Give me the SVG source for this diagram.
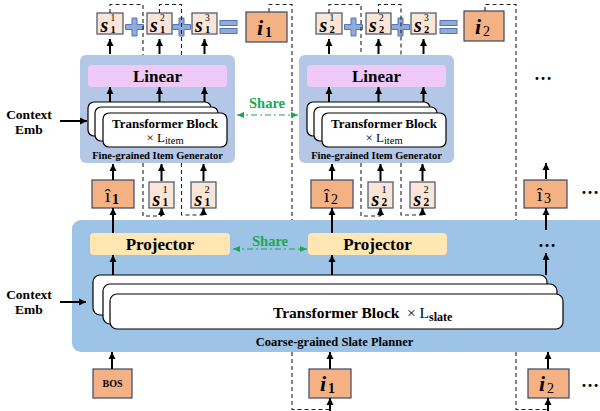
<svg xmlns="http://www.w3.org/2000/svg" width="600" height="411" viewBox="0 0 600 411">
<defs>
<style>
text{font-family:"Liberation Serif","Times New Roman",serif;fill:#000}
.b{font-weight:bold}
.gen{fill:#b4c7e7}
.slate{fill:#9dc3e6}
.lin{fill:#efc9f7}
.proj{fill:#ffe6b3}
.tb{fill:#fff;stroke:#000;stroke-width:1.2}
.ob{fill:#f4b183;stroke:#3a4768;stroke-width:1.2}
.lb{fill:#fbe5d6;stroke:#44546a;stroke-width:1.2}
.plus{fill:#8faadc;stroke:#5775ad;stroke-width:1}
.arr{stroke:#000;stroke-width:2;fill:none;marker-end:url(#ah)}
.dash{stroke:#222;stroke-width:1.1;fill:none;stroke-dasharray:4 3}
.share{stroke:#1aa84f;stroke-width:1.2;fill:none;stroke-dasharray:6 3 2 3;marker-start:url(#gh);marker-end:url(#gh)}
.st{font-weight:bold;fill:#1aa84f;font-size:14.5px}
.sv{font-weight:bold;font-style:italic;font-size:20px}
.sup{font-size:10.5px;font-weight:normal;font-style:normal}
.sub{font-size:11.5px;font-weight:bold;font-style:normal}
.sup2{font-size:9.5px;font-weight:normal;font-style:normal}
.sub2{font-size:10.5px;font-weight:bold;font-style:normal}
.iv{font-weight:bold;font-style:italic;font-size:22px}
.isub{font-weight:bold;font-size:14px;font-style:normal}
.hat{font-size:19px}
</style>
<marker id="ah" markerUnits="userSpaceOnUse" markerWidth="8" markerHeight="8" refX="7" refY="4" orient="auto"><path d="M0,0.5 L7,4 L0,7.5 z" fill="#000"/></marker>
<marker id="gh" markerUnits="userSpaceOnUse" markerWidth="8" markerHeight="8" refX="7" refY="4" orient="auto-start-reverse"><path d="M0,1 L7,4 L0,7 z" fill="#1aa84f"/></marker>
</defs>
<rect width="600" height="411" fill="#fff"/>

<!-- Coarse-grained slate planner -->
<g id="slate-planner">
<rect class="slate" x="72" y="220" width="545" height="132" rx="9"/>
<rect class="tb" x="93" y="275" width="454" height="40" rx="7"/>
<rect class="tb" x="103" y="284" width="454" height="40" rx="7"/>
<rect class="tb" x="110" y="294" width="453" height="35" rx="7"/>
<text class="b" x="273" y="318" font-size="15.5">Transformer Block</text>
<text x="407" y="318" font-size="15.5">× L<tspan class="b" font-size="12" dy="3">slate</tspan></text>
<text class="b" x="334.5" y="346" font-size="12.5" text-anchor="middle">Coarse-grained Slate Planner</text>
</g>
<g id="projector-1"><rect class="proj" x="90" y="233" width="140" height="22" rx="4"/><text class="b" x="160" y="250" font-size="17" text-anchor="middle">Projector</text></g>
<g id="projector-2"><rect class="proj" x="308" y="233" width="139" height="22" rx="4"/><text class="b" x="377.5" y="250" font-size="17" text-anchor="middle">Projector</text></g>
<g id="dots-proj"><text class="b" x="547" y="247" font-size="18" text-anchor="middle">…</text></g>

<!-- Fine-grained item generators -->
<g id="generator-1">
<rect class="gen" x="80" y="55" width="155" height="108" rx="6"/>
<rect class="lin" x="88" y="65" width="139" height="22" rx="4"/>
<text class="b" x="157.5" y="82" font-size="17" text-anchor="middle">Linear</text>
<rect class="tb" x="88" y="102" width="123" height="34" rx="6"/>
<rect class="tb" x="95" y="107" width="123" height="34" rx="6"/>
<rect class="tb" x="103" y="113" width="124" height="34" rx="6"/>
<text class="b" x="165" y="128" font-size="13" text-anchor="middle">Transformer Block</text>
<text x="165" y="142" font-size="13" text-anchor="middle">× L<tspan font-size="10.5" dy="2">item</tspan></text>
<text class="b" x="157.5" y="159" font-size="10.5" text-anchor="middle">Fine-grained Item Generator</text>
</g>
<g id="generator-2">
<rect class="gen" x="299" y="55" width="155" height="108" rx="6"/>
<rect class="lin" x="307" y="65" width="139" height="22" rx="4"/>
<text class="b" x="376.5" y="82" font-size="17" text-anchor="middle">Linear</text>
<rect class="tb" x="307" y="102" width="123" height="34" rx="6"/>
<rect class="tb" x="314" y="107" width="123" height="34" rx="6"/>
<rect class="tb" x="322" y="113" width="124" height="34" rx="6"/>
<text class="b" x="384" y="128" font-size="13" text-anchor="middle">Transformer Block</text>
<text x="384" y="142" font-size="13" text-anchor="middle">× L<tspan font-size="10.5" dy="2">item</tspan></text>
<text class="b" x="376.5" y="159" font-size="10.5" text-anchor="middle">Fine-grained Item Generator</text>
</g>

<!-- Context Emb labels -->
<g id="context-emb-1"><text class="b" x="29" y="119" font-size="13.5" text-anchor="middle">Context</text><text class="b" x="29" y="134" font-size="13.5" text-anchor="middle">Emb</text></g>
<g id="context-emb-2"><text class="b" x="29" y="299" font-size="13.5" text-anchor="middle">Context</text><text class="b" x="29" y="314" font-size="13.5" text-anchor="middle">Emb</text></g>

<!-- Top row group 1 -->
<g id="s1-1-out"><rect class="lb" x="97" y="13" width="26" height="21"/><text class="sv" x="100.5" y="32">s<tspan class="sup2" x="110.5" y="21">1</tspan><tspan class="sub2" x="110.5" y="33">1</tspan></text></g>
<g id="plus-1a"><path class="plus" d="M132,18 h5 v6.5 h6.5 v5 h-6.5 v6.5 h-5 v-6.5 h-6.5 v-5 h6.5 z"/></g>
<g id="s1-2-out"><rect class="lb" x="147" y="13" width="25" height="21"/><text class="sv" x="150" y="32">s<tspan class="sup2" x="160" y="21">2</tspan><tspan class="sub2" x="160" y="33">1</tspan></text></g>
<g id="plus-1b"><path class="plus" d="M179,18 h5 v6.5 h6.5 v5 h-6.5 v6.5 h-5 v-6.5 h-6.5 v-5 h6.5 z"/></g>
<g id="s1-3-out"><rect class="lb" x="192" y="13" width="25" height="21"/><text class="sv" x="195" y="32">s<tspan class="sup2" x="205" y="21">3</tspan><tspan class="sub2" x="205" y="33">1</tspan></text></g>
<g id="equals-1"><rect class="plus" x="220" y="20.5" width="17" height="5"/><rect class="plus" x="220" y="28.5" width="17" height="5"/></g>
<g id="i1-out"><rect class="ob" x="246" y="12" width="41" height="30"/><text class="iv" x="257" y="35">i<tspan class="isub" x="265" y="37">1</tspan></text></g>

<!-- Top row group 2 -->
<g id="s2-1-out"><rect class="lb" x="316" y="13" width="26" height="21"/><text class="sv" x="319.5" y="32">s<tspan class="sup2" x="329.5" y="21">1</tspan><tspan class="sub2" x="329.5" y="33">2</tspan></text></g>
<g id="plus-2a"><path class="plus" d="M351,18 h5 v6.5 h6.5 v5 h-6.5 v6.5 h-5 v-6.5 h-6.5 v-5 h6.5 z"/></g>
<g id="s2-2-out"><rect class="lb" x="366" y="13" width="25" height="21"/><text class="sv" x="369" y="32">s<tspan class="sup2" x="379" y="21">2</tspan><tspan class="sub2" x="379" y="33">2</tspan></text></g>
<g id="plus-2b"><path class="plus" d="M398,18 h5 v6.5 h6.5 v5 h-6.5 v6.5 h-5 v-6.5 h-6.5 v-5 h6.5 z"/></g>
<g id="s2-3-out"><rect class="lb" x="411" y="13" width="25" height="21"/><text class="sv" x="414" y="32">s<tspan class="sup2" x="424" y="21">3</tspan><tspan class="sub2" x="424" y="33">2</tspan></text></g>
<g id="equals-2"><rect class="plus" x="440" y="20.5" width="17" height="5"/><rect class="plus" x="440" y="28.5" width="17" height="5"/></g>
<g id="i2-out"><rect class="ob" x="464" y="11" width="40" height="30"/><text class="iv" x="475" y="34">i<tspan x="483" y="36" font-size="14" font-weight="normal" font-style="normal">2</tspan></text></g>
<g id="dots-top"><text class="b" x="543" y="80" font-size="18" text-anchor="middle">…</text></g>

<!-- Middle row -->
<g id="ihat-1"><rect class="ob" x="92" y="180" width="42" height="28"/><text class="hat" x="105" y="202">î<tspan class="isub" x="112" y="204">1</tspan></text></g>
<g id="s1-1-in"><rect class="lb" x="149" y="182" width="25" height="26"/><text class="sv" x="152.5" y="206">s<tspan class="sup" x="162.5" y="193">1</tspan><tspan class="sub" x="162.5" y="205.5">1</tspan></text></g>
<g id="s1-2-in"><rect class="lb" x="191" y="182" width="25" height="26"/><text class="sv" x="194.5" y="206">s<tspan class="sup" x="204.5" y="193">2</tspan><tspan class="sub" x="204.5" y="205.5">1</tspan></text></g>
<g id="ihat-2"><rect class="ob" x="311" y="180" width="42" height="28"/><text class="hat" x="324" y="202">î<tspan x="331" y="204" font-size="14">2</tspan></text></g>
<g id="s2-1-in"><rect class="lb" x="368" y="182" width="25" height="26"/><text class="sv" x="371.5" y="206">s<tspan class="sup" x="381.5" y="193">1</tspan><tspan class="sub" x="381.5" y="205.5">2</tspan></text></g>
<g id="s2-2-in"><rect class="lb" x="410" y="182" width="25" height="26"/><text class="sv" x="413.5" y="206">s<tspan class="sup" x="423.5" y="193">2</tspan><tspan class="sub" x="423.5" y="205.5">2</tspan></text></g>
<g id="ihat-3"><rect class="ob" x="524" y="180" width="43" height="28"/><text class="hat" x="537" y="201">î<tspan x="544" y="203" font-size="14">3</tspan></text></g>
<g id="dots-mid"><text class="b" x="590" y="194" font-size="18" text-anchor="middle">…</text></g>

<!-- Bottom row -->
<g id="bos"><rect class="ob" x="93" y="369" width="39" height="29"/><text class="b" x="112.5" y="387" font-size="10" text-anchor="middle">BOS</text></g>
<g id="i1-in"><rect class="ob" x="309" y="369" width="42" height="29"/><text class="iv" x="320" y="391">i<tspan class="isub" x="328" y="393">1</tspan></text></g>
<g id="i2-in"><rect class="ob" x="528" y="369" width="41" height="29"/><text class="iv" x="539" y="391">i<tspan x="547" y="393" font-size="14" font-weight="normal" font-style="normal">2</tspan></text></g>
<g id="dots-bot"><text class="b" x="590" y="387" font-size="18" text-anchor="middle">…</text></g>

<!-- Share labels -->
<g id="share-1"><text class="st" x="267" y="108" text-anchor="middle">Share</text></g>
<g id="share-2"><text class="st" x="270" y="246" text-anchor="middle">Share</text></g>

<g id="connectors">
<!-- dashed feedback -->
<path class="dash" d="M110,13 V4.5 H143 V55 M143,163 V216 H161.5"/>
<path class="dash" d="M159.5,13 V4.5 H181.5 V55 M181.5,163 V215 H203.5"/>
<path class="dash" d="M269,12 V4.5 H292 V220 M292,352 V409.5 H330"/>
<path class="dash" d="M329,13 V4.5 H361 V55 M361,163 V216 H380.5"/>
<path class="dash" d="M378.5,13 V4.5 H401 V55 M401,163 V215 H422.5"/>
<path class="dash" d="M485,11 V4.5 H516 V220 M516,352 V409.5 H548"/>
<path class="arr" stroke-width="1.3" d="M161.5,216 V208"/>
<path class="arr" stroke-width="1.3" d="M203.5,215 V208"/>
<path class="arr" stroke-width="1.3" d="M380.5,216 V208"/>
<path class="arr" stroke-width="1.3" d="M422.5,215 V208"/>
<path class="arr" stroke-width="1.3" d="M330,411 V398"/>
<path class="arr" stroke-width="1.3" d="M548,411 V398"/>
<!-- share -->
<path class="share" d="M237,115 H298"/>
<path class="share" d="M233,249 H307"/>
<!-- context -->
<path class="arr" d="M60,121 H87"/>
<path class="arr" d="M60,302 H86"/>
<!-- generator 1 -->
<path class="arr" d="M110,54 V39"/>
<path class="arr" d="M159.5,54 V39"/>
<path class="arr" d="M204.5,54 V39"/>
<path class="arr" d="M110,102 V87"/>
<path class="arr" d="M159.5,102 V87"/>
<path class="arr" d="M204.5,102 V87"/>
<path class="arr" d="M113,180 V164"/>
<path class="arr" d="M161.5,181 V164"/>
<path class="arr" d="M203.5,181 V164"/>
<!-- generator 2 -->
<path class="arr" d="M329,54 V39"/>
<path class="arr" d="M378.5,54 V39"/>
<path class="arr" d="M423.5,54 V39"/>
<path class="arr" d="M329,102 V87"/>
<path class="arr" d="M378.5,102 V87"/>
<path class="arr" d="M423.5,102 V87"/>
<path class="arr" d="M332,180 V164"/>
<path class="arr" d="M380.5,181 V164"/>
<path class="arr" d="M422.5,181 V164"/>
<path class="arr" d="M546,179 V163"/>
<!-- slate -->
<path class="arr" d="M113,233 V208"/>
<path class="arr" d="M113,275 V255"/>
<path class="arr" d="M332,233 V208"/>
<path class="arr" d="M332,275 V255"/>
<path class="arr" d="M546,230 V208"/>
<path class="arr" d="M546,275 V253"/>
<path class="arr" d="M112,369 V352"/>
<path class="arr" d="M330,369 V352"/>
<path class="arr" d="M548,369 V352"/>
</g>
</svg>
